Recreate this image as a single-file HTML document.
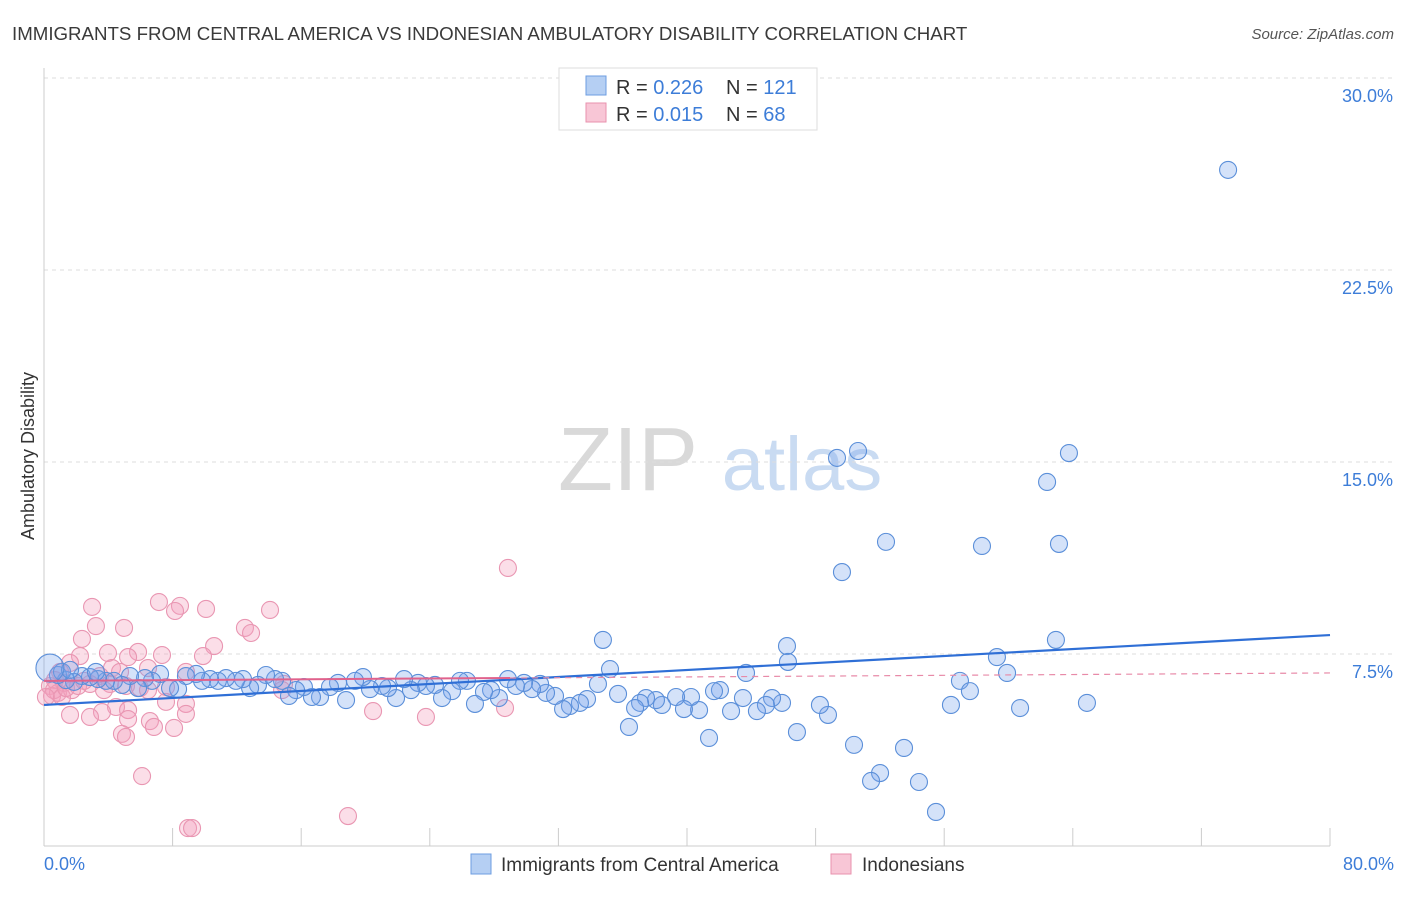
<!DOCTYPE html>
<html><head><meta charset="utf-8"><style>
body{margin:0;background:#fff;font-family:"Liberation Sans",sans-serif;}
svg text{font-family:"Liberation Sans",sans-serif;}
</style></head><body>
<svg id="chart" width="1406" height="892" xmlns="http://www.w3.org/2000/svg">
<text x="12" y="40" font-size="18.7" fill="#3a3a3a">IMMIGRANTS FROM CENTRAL AMERICA VS INDONESIAN AMBULATORY DISABILITY CORRELATION CHART</text>
<text x="1394" y="39" font-size="15" fill="#555" font-style="italic" text-anchor="end">Source: ZipAtlas.com</text>
<g>
<text x="628" y="490" font-size="90" fill="#d9d9d9" font-family="Liberation Serif" text-anchor="middle">ZIP</text>
<text x="802" y="490" font-size="76" fill="#c9dbf2" text-anchor="middle">atlas</text>
</g>
<g id="grid"></g>
<g id="axes"></g>
<g id="pinkpts"></g>
<g id="bluepts"></g>
<g id="lines"></g>
<text transform="translate(34,456) rotate(-90)" font-size="18" fill="#333" text-anchor="middle">Ambulatory Disability</text>
<g>
<rect x="559" y="68" width="258" height="62" fill="#fff" stroke="#ddd"/>
<rect x="586" y="76" width="20" height="19" fill="#b5cff3" stroke="#6d9de0"/>
<rect x="586" y="103" width="20" height="19" fill="#f8c6d6" stroke="#e892ae"/>
<text x="616" y="94" font-size="20" fill="#333">R = <tspan fill="#3d7dd8">0.226</tspan></text>
<text x="726" y="94" font-size="20" fill="#333">N = <tspan fill="#3d7dd8">121</tspan></text>
<text x="616" y="121" font-size="20" fill="#333">R = <tspan fill="#3d7dd8">0.015</tspan></text>
<text x="726" y="121" font-size="20" fill="#333">N = <tspan fill="#3d7dd8"> 68</tspan></text>
</g>
<g>
<rect x="471" y="854" width="20" height="20" fill="#b5cff3" stroke="#6d9de0"/>
<text x="501" y="871" font-size="19" fill="#333">Immigrants from Central America</text>
<rect x="831" y="854" width="20" height="20" fill="#f8c6d6" stroke="#e892ae"/>
<text x="862" y="871" font-size="19" fill="#333">Indonesians</text>
</g>
</svg>
<script>
const yTicks=[7.5,15,22.5,30];
const yTickLabels=["7.5%","15.0%","22.5%","30.0%"];
const xTickVals=[0,8,16,24,32,40,48,56,64,72,80];
const xEndLabels=["0.0%","80.0%"];
const blueX=[73.66,63.76,50.64,49.33,62.40,52.38,58.35,63.14,49.64,34.77,62.95,46.22,59.28,59.91,46.28,35.21,43.67,56.98,57.60,56.42,60.72,64.88,55.49,54.43,53.50,52.01,51.45,50.39,48.77,48.27,46.84,45.91,45.29,44.91,44.35,43.48,42.74,42.05,41.68,41.37,40.75,40.25,39.81,39.32,38.44,38.07,37.45,37.08,36.77,36.39,35.71,34.46,33.78,33.34,32.72,32.29,31.79,31.23,30.86,30.36,29.86,29.36,28.86,28.30,27.81,27.37,26.81,26.31,25.88,25.38,24.76,24.32,23.76,23.27,22.83,22.40,21.90,21.40,21.03,20.28,19.84,19.35,18.79,18.29,17.79,17.17,16.67,16.17,15.68,15.24,14.81,14.37,13.81,13.31,12.82,12.38,11.94,11.32,10.82,10.33,9.83,9.46,8.83,8.34,7.84,7.22,6.72,6.28,5.85,5.35,4.85,4.35,3.86,3.36,2.86,2.36,1.87,1.37,0.87,1.12,1.62,3.23,0.37];
const blueY=[26.41,15.35,15.43,15.16,14.22,11.88,11.72,11.80,10.70,8.05,8.05,7.81,7.38,6.76,7.19,6.91,6.76,6.45,6.05,5.51,5.39,5.59,1.33,2.50,3.83,2.85,2.54,3.95,5.12,5.51,4.45,5.59,5.78,5.51,5.27,5.78,5.27,6.09,6.05,4.22,5.31,5.82,5.35,5.82,5.51,5.70,5.78,5.59,5.39,4.65,5.94,6.33,5.74,5.59,5.47,5.35,5.86,5.98,6.33,6.13,6.37,6.25,6.52,5.78,6.09,6.02,5.55,6.45,6.45,6.05,5.78,6.29,6.25,6.37,6.09,6.52,5.78,6.17,6.25,6.13,6.60,6.45,5.70,6.37,6.21,5.82,5.82,6.21,6.09,5.86,6.45,6.52,6.68,6.29,6.17,6.52,6.45,6.56,6.45,6.52,6.45,6.72,6.64,6.13,6.17,6.72,6.45,6.56,6.17,6.64,6.29,6.45,6.45,6.52,6.60,6.64,6.41,6.48,6.68,6.80,6.88,6.80,6.95];
const pinkX=[28.86,7.15,8.46,10.08,14.06,2.99,8.15,4.98,3.23,12.50,12.88,10.58,2.36,5.85,7.34,3.98,5.23,2.24,9.89,6.47,8.83,4.23,4.73,3.48,1.62,1.00,0.68,0.37,0.50,0.87,1.24,1.74,2.86,4.11,5.10,5.97,7.59,6.47,14.93,14.81,7.59,8.83,4.48,5.23,8.83,3.61,1.62,2.86,20.47,23.76,28.68,5.23,6.59,8.09,6.84,4.85,5.10,6.10,8.96,9.21,18.91,0.62,0.12,1.12,1.37,2.12,2.49,3.73];
const pinkY=[10.86,9.53,9.38,9.26,9.22,9.34,9.18,8.52,8.59,8.52,8.32,7.81,8.09,7.58,7.46,7.54,7.38,7.42,7.42,6.95,6.80,6.95,6.80,6.64,7.15,6.80,6.48,6.25,5.86,5.98,6.37,6.09,6.33,6.33,6.25,6.17,6.21,6.09,6.33,6.09,5.63,5.55,5.43,5.31,5.16,5.23,5.12,5.04,5.27,5.04,5.39,4.96,4.88,4.61,4.65,4.38,4.26,2.73,0.70,0.70,1.17,6.09,5.82,5.82,6.17,6.25,6.45,6.09];
const blueTrend=[5.51,8.24];
const pinkTrend=[6.45,6.76];
const X0=44,X1=1330,Y0=846,PXY=25.6;
const sx=v=>X0+(X1-X0)*v/80;
const sy=v=>Y0-v*PXY;
const NS="http://www.w3.org/2000/svg";
function mk(tag,parent,attrs){const e=document.createElementNS(NS,tag);for(const k in attrs)e.setAttribute(k,attrs[k]);parent.appendChild(e);return e;}
const grid=document.getElementById('grid'),axes=document.getElementById('axes');
yTicks.forEach((t,i)=>{
 const l=mk('line',grid,{x1:X0,x2:1394,y1:sy(t),y2:sy(t),stroke:'#ddd','stroke-dasharray':'4,4'});
 
 
 const tx=mk('text',axes,{x:1393,y:sy(t)+24,'font-size':18,fill:'#3d7dd8','text-anchor':'end'});
 tx.textContent=yTickLabels[i];
 
 
});
const la=mk('line',axes,{x1:X0,x2:X0,y1:68,y2:Y0,stroke:'#ccc'});


const ba=mk('line',axes,{x1:X0,x2:X1,y1:Y0,y2:Y0,stroke:'#ccc'});


xTickVals.forEach(t=>{
 const k=mk('line',axes,{x1:sx(t),x2:sx(t),y1:Y0,y2:Y0-18,stroke:'#ccc'});
 
 
});
[[0,'start',44],[80,'end',1394]].forEach((a,i)=>{
 const tx=mk('text',axes,{x:a[2],y:870,'font-size':18,fill:'#3d7dd8','text-anchor':a[1]});
 tx.textContent=xEndLabels[i];
 
 
});
function pts(gid,xs,ys,fill,stroke,name){
 const g=document.getElementById(gid);
 xs.forEach((x,i)=>{
  const r=(i===xs.length-1&&name==='blue-point')?14:8.5;
  const c=mk('circle',g,{cx:sx(x),cy:sy(ys[i]),r:r,fill:fill,stroke:stroke,'stroke-width':1.1});
  
  
 });
}
pts('pinkpts',pinkX,pinkY,'rgba(244,160,188,0.35)','#e996b2','pink-point');
pts('bluepts',blueX,blueY,'rgba(120,165,235,0.32)','#5b8fd9','blue-point');
const lg=document.getElementById('lines');
const bl=mk('line',lg,{x1:sx(0),y1:sy(blueTrend[0]),x2:sx(80),y2:sy(blueTrend[1]),stroke:'#2f6fd6','stroke-width':2.2});


const pm=pinkTrend[0]+(pinkTrend[1]-pinkTrend[0])*29/80;
const p1=mk('line',lg,{x1:sx(0),y1:sy(pinkTrend[0]),x2:sx(29),y2:sy(pm),stroke:'#e0628c','stroke-width':2});


const p2=mk('line',lg,{x1:sx(29),y1:sy(pm),x2:sx(80),y2:sy(pinkTrend[1]),stroke:'#e88aa8','stroke-width':1.2,'stroke-dasharray':'6,5'});


</script>
</body></html>
